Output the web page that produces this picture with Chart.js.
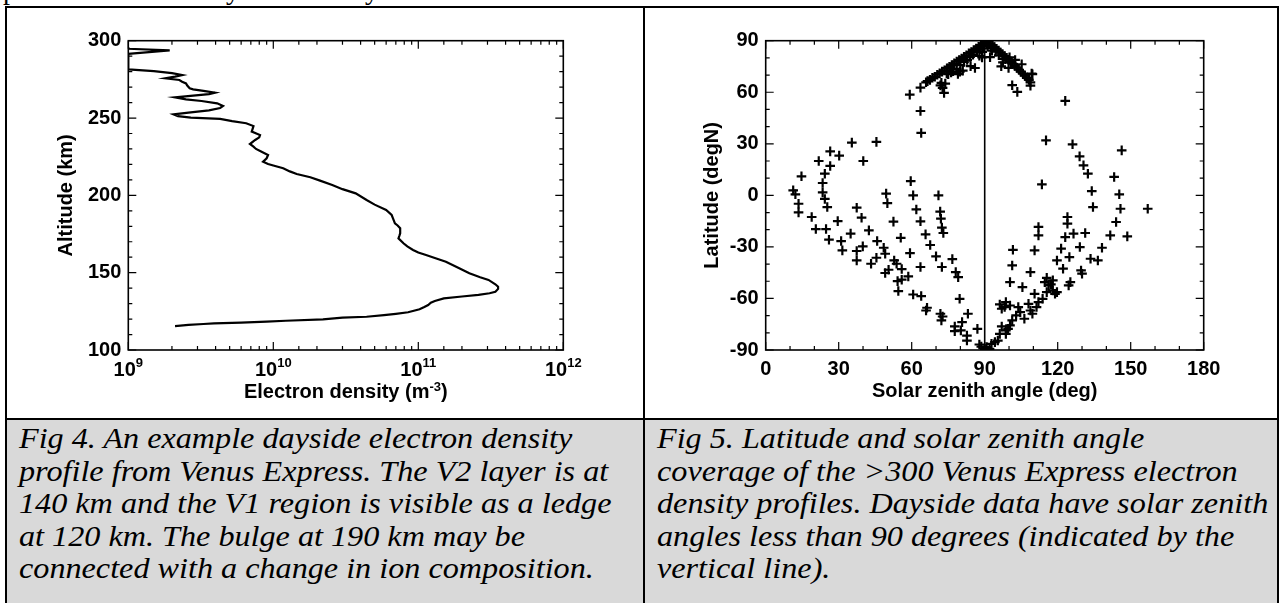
<!DOCTYPE html>
<html>
<head>
<meta charset="utf-8">
<script src="https://cdn.jsdelivr.net/npm/chart.js@4.4.1/dist/chart.umd.min.js"></script>
<style>
  body { margin: 0; width: 1281px; height: 603px; overflow: hidden; background: #fff; position: relative; }
  .rule { position: absolute; background: #000; z-index: 3; }
  .cap { position: absolute; background: #d9d9d9; }
  .txt { position: absolute; font-family: "Liberation Serif", serif; font-style: italic; font-size: 29px;
         line-height: 32.5px; white-space: nowrap; color: #000; z-index: 4;
         transform: scaleX(1.11); transform-origin: 0 0; }
  .cut { position: absolute; top: -24px; font-family: "Liberation Serif", serif; font-size: 28px; line-height: 27px; }
  canvas { position: absolute; }
</style>
</head>
<body>

<span class="cut" style="left:3px">p</span>
<span class="cut" style="left:226px">y</span>
<span class="cut" style="left:365px">y</span>

<div class="cap" style="left:7px; top:420px; width:636px; height:183px"></div>
<div class="cap" style="left:645px; top:420px; width:632px; height:183px"></div>

<div class="rule" style="left:5px; top:6px; width:1274px; height:2px"></div>
<div class="rule" style="left:5px; top:418px; width:1274px; height:2px"></div>
<div class="rule" style="left:5px; top:6px; width:2px; height:597px"></div>
<div class="rule" style="left:643px; top:6px; width:2px; height:597px"></div>
<div class="rule" style="left:1277px; top:6px; width:2px; height:597px"></div>

<canvas id="profile" width="636" height="410" style="left:7px; top:8px"></canvas>
<canvas id="coverage" width="632" height="410" style="left:645px; top:8px"></canvas>

<div class="txt" style="left:19px; top:422px">Fig 4. An example dayside electron density<br>profile from Venus Express. The V2 layer is at<br>140 km and the V1 region is visible as a ledge<br>at 120 km. The bulge at 190 km may be<br>connected with a change in ion composition.</div>
<div class="txt" style="left:657px; top:422px">Fig 5. Latitude and solar zenith angle<br>coverage of the &gt;300 Venus Express electron<br>density profiles. Dayside data have solar zenith<br>angles less than 90 degrees (indicated by the<br>vertical line).</div>

<script>
// Fig 4: altitude (km) vs electron density (m^-3)
const altitude = [115.5, 116.2, 116.8, 117.2, 117.7, 118.4, 118.9, 119.8, 120.9, 121.5, 122.6, 123.4, 124.4, 126.3, 127.8,
  129.1, 130.6, 131.7, 133.4, 134.6, 135.6, 136.7, 137.7, 139.5, 140.9, 142.5, 145.3, 147, 149.6, 153, 157.1, 159.5,
  161.4, 163, 164.7, 167, 169, 172.2, 173.8, 175.5, 178.7, 180.5, 181.9, 185, 187.3, 190.5, 194, 197, 201.3, 204,
  206.7, 209.5, 211.7, 213.8, 215.5, 217.5, 219.3, 220.3, 221.8, 224, 226.1, 228.2, 230, 231.5, 233.2, 235.8, 237.5,
  239, 241.2, 243, 244.8, 246.6, 248, 249.4, 250.2, 251.2, 252.4, 253.5, 255, 256.5, 257.8, 259.5, 261, 262.1, 263.4,
  264.5, 265.5, 266.4, 267.5, 268.5, 269.2, 271, 272.4, 273.5, 274.6, 275.7, 276.8, 277.8, 279, 280.3, 281.5, 291.5,
  293.8, 294.8, 296];
const density = [2.1e9, 2.6e9, 3.3e9, 3.9e9, 6.0e9, 9.0e9, 1.22e10, 2.2e10, 3.0e10, 4.4e10, 5.8e10, 7.0e10, 8.5e10, 1.02e11, 1.1e11,
  1.17e11, 1.22e11, 1.3e11, 1.5e11, 2.0e11, 2.6e11, 3.1e11, 3.4e11, 3.55e11, 3.55e11, 3.4e11, 3.05e11, 2.67e11, 2.25e11, 1.9e11, 1.55e11, 1.3e11,
  1.13e11, 1.0e11, 9.2e10, 8.4e10, 7.9e10, 7.3e10, 7.4e10, 7.5e10, 7.5e10, 7.2e10, 6.9e10, 6.7e10, 6.55e10, 6.0e10, 5.0e10, 4.4e10, 3.7e10, 3.0e10,
  2.55e10, 2.1e10, 1.8e10, 1.45e10, 1.3e10, 1.17e10, 1.0e10, 9.2e9, 8.5e9, 9.0e9, 9.2e9, 8.3e9, 7.6e9, 7.3e9, 6.9e9, 7.5e9, 8.0e9,
  8.1e9, 7.1e9, 7.2e9, 7.3e9, 6.5e9, 5.2e9, 4.3e9, 2.7e9, 2.2e9, 2.05e9, 2.6e9, 3.6e9, 4.3e9, 4.5e9, 4.1e9, 3.2e9, 2.5e9, 2.1e9,
  2.8e9, 3.6e9, 3.95e9, 3.3e9, 2.8e9, 2.65e9, 2.55e9, 2.5e9, 2.35e9, 2.25e9, 1.8e9, 2.1e9, 2.35e9, 2.0e9, 1.5e9, 1.0e9, 1.0e9,
  1.93e9, 1.0e9, 1.0e9];
const altTicks = [100, 150, 200, 250, 300];
const densityExponents = [9, 10, 11, 12];

// Fig 5: solar zenith angle (deg) and latitude (degN) of each profile
const sza = [11.3, 12.2, 14.7, 13.5, 13.5, 18.9, 20.6, 21.8, 23.4, 23.4, 24.3, 24.3, 25.3, 26.5, 26.5, 24.8, 26, 30.2, 29.6, 31,
  31.5, 34.9, 35.4, 37.4, 37.4, 37.4, 39.4, 39.9, 40.1, 42.4, 43.3, 45.5, 45.5, 45.8, 48.5, 49.1, 49.5, 50, 49.1, 50.5,
  52.5, 52.8, 53.8, 54.2, 54.5, 55.9, 55.5, 55.9, 58.6, 59.6, 59.3, 60.6, 60.6, 61.9, 63.9, 63.6, 63.6, 65.7, 66.3, 65.9,
  67.6, 70, 71, 71.7, 72, 72.4, 73, 72.4, 71.8, 72.2, 72.7, 76.7, 78.1, 79.1, 79.7, 77.7, 77.7, 80.7, 80.2, 83.1,
  82.7, 82.7, 87, 87.8, 88.6, 90, 90.8,
  59.2, 63.6, 63.6, 63.9, 65.9, 66.5, 67.5, 68.5, 69.5, 70.5, 71.5, 72.5, 73.5, 74.5, 75.5, 76.5, 77.5, 78.5, 79.5, 80.5,
  81.5, 82.5, 83.5, 84.5, 85.5, 86.5, 87.5, 88.5, 89.3, 90, 90.8, 89.6, 88, 86.8, 85.2, 84, 82.8, 81.5, 80, 78.5,
  77, 87.8, 89, 89.5, 88.9, 84.2, 81, 79, 72.2, 72.7, 73.3, 73.8, 71.8, 75, 76.2, 86, 79.8, 74.4,
  91.5, 92.3, 93.2, 94, 94.8, 95.7, 96.5, 97.3, 98.2, 99, 99.8, 100.7, 101.5, 102.3, 103.2, 104, 104.8, 105.7, 106.5, 107.3,
  108.2, 108.8, 109.6, 105.2, 102.5, 100.2, 98.5, 97.5, 96.8, 99.8, 101.3, 103.4, 108.8, 92.5, 94.5, 91.2, 93, 95.8, 97.5, 92.2,
  101.1, 109.3,
  92, 92.8, 94.2, 95.4, 96.2, 97, 98.7, 98.7, 99.6, 100.4, 101.3, 102.9, 103.8, 98.7, 98.2, 100.4, 104.6, 106.3, 108, 108.8,
  109.6, 110.5, 111.3, 112.1, 113.8, 115.5, 114.7, 115.5, 116.3, 117.2, 118, 118.9, 119.7, 118, 119.7, 121.4, 122.2, 123.1, 124, 124,
  124.8, 124.5, 125.2, 126.5, 129.1, 129.6, 130, 131.3, 133.5, 134.5, 134, 132.4, 130.6, 129, 126.1, 136.5, 138.2, 141.6, 143.2, 144,
  145.3, 145.8, 146.3, 148.6, 157, 123.1, 115.2, 113.5, 112.1, 112.1, 110.5, 108.8, 105.5, 101.3, 101.6, 100.4, 96.2, 97];
const lat = [2.9, 0.6, 11.1, -4.9, -9.9, -12.6, -19.6, 20, 7.2, 1.7, 12.6, -2.1, -6.8, 25.6, 17.1, -19.6, -25.8, 23.1, -15, -26.6,
  -32, -22.3, 30.7, -7.2, -32.4, -37.9, -13, -29.7, 20, -20.4, -39.8, -36.3, 31.1, -26.6, -30.5, -34, 1, -4.5, -45.2, -43.3,
  -15.3, -37.9, -39.8, -49.9, -55.7, -42.9, -24.7, -49.1, -47.2, 8.3, -33.6, 0, -57.7, -8.2, -58.6, -15.1, -41.7, -22.7, -65.4, -67,
  -28.9, -35.5, 0, -9.5, -13.6, -18.8, -21.9, -41.7, -68.9, -72.8, -70.5, -37.1, -44.7, -47.6, -60.2, -76.3, -79, -73.8, -78.6, -68.9,
  -81.6, -84.5, -77.7, -86.8, -88, -89.3, -88.3,
  58.6, 62.7, 49.1, 36.3, 65.8, 66.5, 67.2, 68.4, 69, 70.2, 71, 72, 72.8, 74, 74.8, 75.9, 76.8, 77.9, 78.7, 79.6,
  80.6, 81.5, 82.6, 83.4, 84.5, 85.4, 86.5, 87.4, 88.4, 89.2, 89.6, 87, 85, 83.6, 81.8, 80.5, 78.8, 77.6, 75.8, 73.6,
  72.2, 81.2, 83.5, 85.5, 80.3, 75.2, 72.6, 70.6, 65.5, 62.6, 59.6, 65, 64, 70.5, 71.5, 74.1, 72, 70.9,
  89.4, 88.3, 87.4, 86.3, 85.3, 84.2, 83.1, 82.1, 81, 80, 78.9, 77.8, 76.6, 75.4, 74.3, 73.2, 72, 70.8, 69.7, 68.4,
  67.2, 65.8, 70.5, 76.3, 78.8, 80.3, 79.2, 77.4, 75.1, 74.2, 64.1, 60.2, 63.8, 85.8, 83.6, 86.8, 84.2, 81.5, 79.4, 80.4,
  77.2, 70.9,
  -89.3, -86.4, -85.4, -84.5, -80.6, -76.3, -78.6, -80.6, -77.7, -75.7, -72.8, -69.9, -65, -62.1, -65, -64.1, -68, -71.8, -63.1, -67,
  -68.9, -57.3, -65, -62.1, -60.2, -56.3, -50.5, -48, -52.4, -51.8, -49.5, -57.3, -56.3, -55.3, -37.9, -31, -42.7, -24.3, -16.5, -12.6,
  -35.9, -52.4, -50.5, -22.3, -30.1, -43.7, -45.6, -21.9, -36.9, -6.8, 2.5, 12.6, 17.5, 22.7, 29.7, -37.9, -30.5, -23.3, 10.7, -15.5,
  0.6, -7.8, 26.2, -23.9, -7.8, 55, 32, 6.4, -18.4, -23.3, -32, -44.7, -53.4, -40.8, -31.7, -50.5, -63.5, -66];
const szaTicks = [0, 30, 60, 90, 120, 150, 180];
const latTicks = [-90, -60, -30, 0, 30, 60, 90];
const daysideLimit = 90;

Chart.defaults.font.family = '"Liberation Sans", Arial, sans-serif';
Chart.defaults.font.weight = 'bold';
Chart.defaults.font.size = 20;
Chart.defaults.color = '#000';

// IDL style frame: box round the plot and inward ticks on all four sides
function frameTicks(isMajorX, isMajorY) {
  return {
    id: 'frameTicks',
    afterDatasetsDraw(chart) {
      const { ctx, chartArea: a, scales } = chart;
      ctx.save();
      ctx.strokeStyle = '#000';
      ctx.lineWidth = 1.2;
      ctx.beginPath();
      scales.x.ticks.forEach(t => {
        const px = scales.x.getPixelForValue(t.value);
        const len = isMajorX(t.value) ? 8 : 4;
        ctx.moveTo(px, a.bottom); ctx.lineTo(px, a.bottom - len);
        ctx.moveTo(px, a.top); ctx.lineTo(px, a.top + len);
      });
      scales.y.ticks.forEach(t => {
        const py = scales.y.getPixelForValue(t.value);
        const len = isMajorY(t.value) ? 8 : 4;
        ctx.moveTo(a.left, py); ctx.lineTo(a.left + len, py);
        ctx.moveTo(a.right, py); ctx.lineTo(a.right - len, py);
      });
      ctx.stroke();
      ctx.lineWidth = 1.6;
      ctx.strokeRect(a.left, a.top, a.right - a.left, a.bottom - a.top);
      ctx.restore();
    }
  };
}

// text with a raised exponent, centred on cx
function drawSup(ctx, base, sup, tail, cx, y, rise) {
  const big = 'bold 20px "Liberation Sans"';
  const small = 'bold 13px "Liberation Sans"';
  ctx.font = big;
  const wb = ctx.measureText(base).width;
  const wt = ctx.measureText(tail).width;
  ctx.font = small;
  const ws = ctx.measureText(sup).width;
  const x0 = cx - (wb + ws + wt) / 2;
  ctx.textAlign = 'left';
  ctx.textBaseline = 'alphabetic';
  ctx.font = big;
  ctx.fillText(base, x0, y);
  ctx.font = small;
  ctx.fillText(sup, x0 + wb, y - rise);
  ctx.font = big;
  ctx.fillText(tail, x0 + wb + ws, y);
}

const densityLabels = {
  id: 'densityLabels',
  afterDraw(chart) {
    const { ctx, chartArea: a, scales: { x } } = chart;
    ctx.save();
    ctx.fillStyle = '#000';
    densityExponents.forEach(e => {
      drawSup(ctx, '10', String(e), '', x.getPixelForValue(Math.pow(10, e)), a.bottom + 26, 9);
    });
    drawSup(ctx, 'Electron density (m', '-3', ')', (a.left + a.right) / 2, a.bottom + 48, 7);
    ctx.restore();
  }
};

new Chart(document.getElementById('profile'), {
  type: 'scatter',
  plugins: [frameTicks(v => Number.isInteger(Math.log10(v)), v => v % 50 === 0), densityLabels],
  data: {
    datasets: [{
      data: density.map((d, i) => ({ x: d, y: altitude[i] })),
      showLine: true,
      borderColor: '#000',
      borderWidth: 2.2,
      pointRadius: 0,
      tension: 0
    }]
  },
  options: {
    responsive: false,
    animation: false,
    events: [],
    layout: { padding: { left: 0, top: 32.7, right: 79.7, bottom: 0 } },
    plugins: { legend: { display: false }, tooltip: { enabled: false } },
    scales: {
      x: {
        type: 'logarithmic',
        min: 1e9,
        max: 1e12,
        grid: { display: false, drawTicks: false },
        border: { display: false },
        ticks: { display: false },
        afterFit: s => { s.height = 68; }
      },
      y: {
        min: 100,
        max: 300,
        grid: { display: false, drawTicks: false },
        border: { display: false },
        ticks: { stepSize: 10, autoSkip: false, padding: 7, callback: v => altTicks.includes(v) ? v : '' },
        title: { display: true, text: 'Altitude (km)', padding: { top: 47, bottom: 0 } },
        afterFit: s => { s.width = 121.3; }
      }
    }
  }
});

new Chart(document.getElementById('coverage'), {
  type: 'scatter',
  plugins: [frameTicks(v => v % 30 === 0, v => v % 30 === 0)],
  data: {
    datasets: [{
      data: sza.map((s, i) => ({ x: s, y: lat[i] })),
      pointStyle: 'cross',
      pointRadius: 4.8,
      borderColor: '#000',
      borderWidth: 2.2,
      backgroundColor: '#000'
    }, {
      data: [{ x: daysideLimit, y: -90 }, { x: daysideLimit, y: 90 }],
      showLine: true,
      borderColor: '#000',
      borderWidth: 1.6,
      pointRadius: 0
    }]
  },
  options: {
    responsive: false,
    animation: false,
    events: [],
    layout: { padding: { left: 0, top: 32.7, right: 73.3, bottom: 0 } },
    plugins: { legend: { display: false }, tooltip: { enabled: false } },
    scales: {
      x: {
        min: 0,
        max: 180,
        grid: { display: false, drawTicks: false },
        border: { display: false },
        ticks: { stepSize: 10, autoSkip: false, maxRotation: 0, padding: 7, callback: v => szaTicks.includes(v) ? v : '' },
        title: { display: true, text: 'Solar zenith angle (deg)', padding: { top: 0, bottom: 15 } },
        afterFit: s => { s.height = 68; }
      },
      y: {
        min: -90,
        max: 90,
        grid: { display: false, drawTicks: false },
        border: { display: false },
        ticks: { stepSize: 10, autoSkip: false, padding: 7, callback: v => latTicks.includes(v) ? v : '' },
        title: { display: true, text: 'Latitude (degN)', padding: { top: 55, bottom: 0 } },
        afterFit: s => { s.width = 120.7; }
      }
    }
  }
});
</script>
</body>
</html>
